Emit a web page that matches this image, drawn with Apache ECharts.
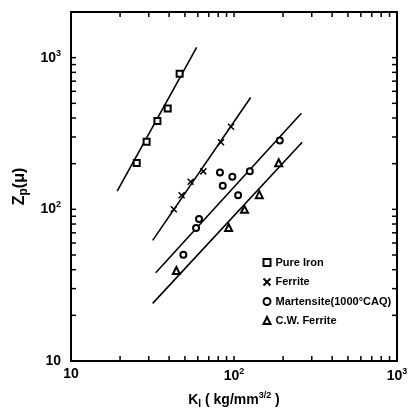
<!DOCTYPE html>
<html><head><meta charset="utf-8">
<script src="https://cdn.jsdelivr.net/npm/echarts@6/dist/echarts.min.js"></script>
<style>html,body{margin:0;padding:0;background:#fff}#c{width:416px;height:414px}</style>
</head><body><div id="c"></div>
<script>
// ---- data ----
const pureIron = [[25.3,202],[29.1,279],[33.9,382],[39.2,462],[46.4,782]];
const ferrite = [[42.7,100],[47.7,124],[54.2,152],[64.8,178],[83.2,277],[95.9,350]];
const martensite = [[48.9,50.2],[58.5,75.2],[61,86.5],[82,175],[85.3,143],[97.7,164],[106,124],[125,178],[191,284]];
const cwFerrite = [[44.3,39.5],[92.7,75.9],[116,100],[143,125],[188,203]];
// fitted lines (end points)
const pureIronFit = [[19.2,132],[59,1167]];
const ferriteFit = [[31.7,62.4],[126.5,546]];
const martensiteFit = [[33.1,38.2],[259,430]];
const cwFerriteFit = [[31.7,24.0],[262,277]];
// axes
const xMin = 10, xMax = 1000, yMin = 10, yMax = 2000;
const xLabelValues = [10,100,1000];
const yLabelValues = [10,100,1000];
const xTickValues = [20,30,40,50,60,70,80,90,100,200,300,400,500,600,700,800,900];
const yTickValues = [20,30,40,50,60,70,80,90,100,200,300,400,500,600,700,800,900,1000];
const names = ['Pure Iron','Ferrite','Martensite(1000°CAQ)','C.W. Ferrite'];

const font = 'Liberation Sans, Arial, sans-serif';
const pow = v => {
  const e = Math.round(Math.log10(v));
  return e === 1 ? '10' : '10{s|' + e + '}';
};
const rich = { s: { fontSize: 9, fontWeight: 'bold', fontFamily: font, verticalAlign: 'bottom', padding: [0,0,9,0] } };
const TL = 5, TW = 1.5;

const xPath = 'path://M0,0L10,10M10,0L0,10';
const chart = echarts.init(document.getElementById('c'));
const lineSeries = (d) => ({
  type: 'line', data: d, symbol: 'none', silent: true, z: 1,
  lineStyle: { color: '#000', width: 1.6 }
});
const scat = (name, d, symbol, size) => ({
  type: 'scatter', name, data: d, symbol, symbolSize: size, z: 5,
  itemStyle: { color: symbol === xPath ? 'none' : '#000', borderColor: '#000', borderWidth: 1.5, opacity: 1 }
});
// tick marks: short rect symbols placed through the axis scales, shifted inward
const tickSeries = (d, size, offset) => ({
  type: 'scatter', data: d, symbol: 'rect', symbolSize: size, symbolOffset: offset,
  silent: true, clip: false, z: 6, itemStyle: { color: '#000', opacity: 1 }
});

chart.setOption({
  animation: false,
  backgroundColor: '#fff',
  grid: { left: 71, right: 19, top: 12, bottom: 50, show: true, borderColor: '#000', borderWidth: 2, backgroundColor: 'transparent' },
  xAxis: { type: 'log', logBase: 10, min: xMin, max: xMax,
    axisLine: { show: true, lineStyle: { color: '#000', width: 2 } }, axisTick: { show: false }, splitLine: { show: false },
    axisLabel: { customValues: xLabelValues, formatter: pow, rich, color: '#000', fontSize: 14, fontWeight: 'bold', fontFamily: font, margin: 6 },
    name: 'K{sub|I} ( kg/mm{s|3/2} )', nameLocation: 'middle', nameGap: 30,
    nameTextStyle: { color: '#000', fontSize: 14, fontWeight: 'bold', fontFamily: font,
      rich: { sub: { fontSize: 10, fontWeight: 'bold', fontFamily: font, verticalAlign: 'top', padding: [8,0,0,0] }, s: { fontSize: 9, fontWeight: 'bold', fontFamily: font, verticalAlign: 'bottom', padding: [0,0,9,0] } } } },
  yAxis: { type: 'log', logBase: 10, min: yMin, max: yMax,
    axisLine: { show: true, lineStyle: { color: '#000', width: 2 } }, axisTick: { show: false }, splitLine: { show: false },
    axisLabel: { customValues: yLabelValues, formatter: pow, rich, color: '#000', fontSize: 14, fontWeight: 'bold', fontFamily: font, margin: 10 },
    name: 'Z{sub|p}(μ)', nameLocation: 'middle', nameGap: 34, nameRotate: 90,
    nameTextStyle: { color: '#000', fontSize: 16, fontWeight: 'bold', fontFamily: font,
      rich: { sub: { fontSize: 12, fontWeight: 'bold', fontFamily: font, verticalAlign: 'top', padding: [8,0,0,0] } } } },
  legend: {
    data: names, orient: 'vertical', left: 256, top: 252, itemGap: 8,
    itemWidth: 7, itemHeight: 7,
    textStyle: { color: '#000', fontSize: 11, fontWeight: 'bold', fontFamily: font, width: 124, overflow: 'truncate', ellipsis: '' }
  },
  series: [
    tickSeries(xTickValues.map(v => [v, yMin]), [TW, TL], [0, -TL / 2]),
    tickSeries(xTickValues.map(v => [v, yMax]), [TW, TL], [0, TL / 2]),
    tickSeries(yTickValues.map(v => [xMin, v]), [TL, TW], [TL / 2, 0]),
    tickSeries(yTickValues.map(v => [xMax, v]), [TL, TW], [-TL / 2, 0]),
    lineSeries(pureIronFit), lineSeries(ferriteFit), lineSeries(martensiteFit), lineSeries(cwFerriteFit),
    scat(names[0], pureIron, 'emptyRect', 6),
    scat(names[1], ferrite, xPath, 6),
    scat(names[2], martensite, 'emptyCircle', 6),
    scat(names[3], cwFerrite, 'emptyTriangle', 7)
  ]
});
</script></body></html>
